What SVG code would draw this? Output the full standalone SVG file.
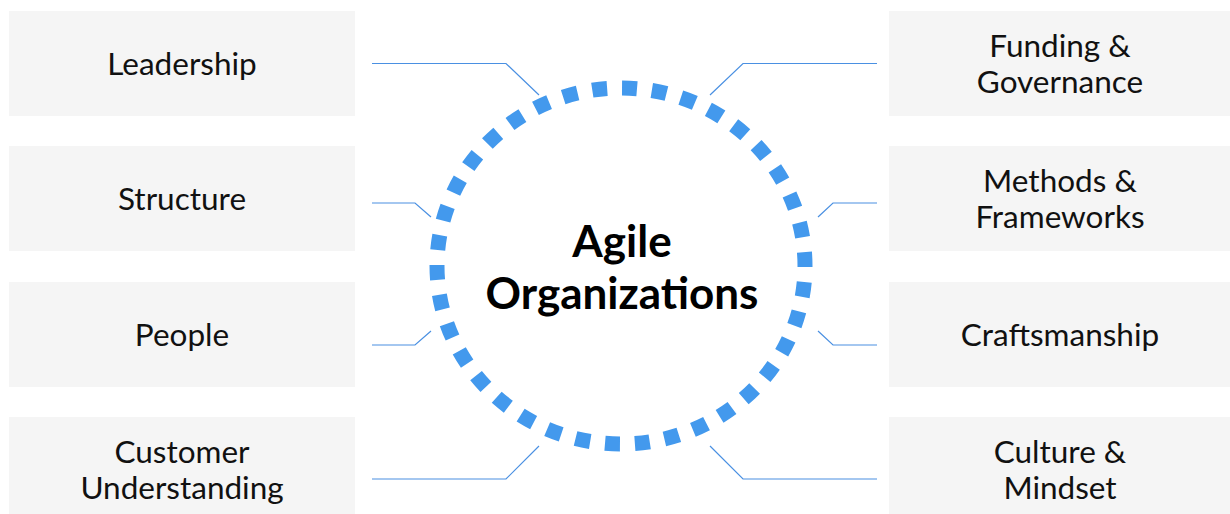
<svg xmlns="http://www.w3.org/2000/svg" width="1230" height="514" viewBox="0 0 1230 514">
<style>
.box{fill:#f5f5f5}
.lbl{font-family:Lato,"Liberation Sans",sans-serif;font-size:31.5px;fill:#111;text-anchor:middle}
.ctr{font-family:Lato,"Liberation Sans",sans-serif;font-size:44px;font-weight:bold;fill:#000;text-anchor:middle}
.con{fill:none;stroke:#4a90e2;stroke-width:1.2}
</style>
<rect width="1230" height="514" fill="#fff"/>
<g id="leadership"><rect class="box" x="9" y="11" width="346" height="105"/><text class="lbl" x="182" y="75">Leadership</text></g>
<g id="structure"><rect class="box" x="9" y="146" width="346" height="105"/><text class="lbl" x="182" y="210">Structure</text></g>
<g id="people"><rect class="box" x="9" y="282" width="346" height="105"/><text class="lbl" x="182" y="346">People</text></g>
<g id="customer"><rect class="box" x="9" y="417" width="346" height="105"/><text class="lbl" x="182" y="463">Customer</text><text class="lbl" x="182" y="499">Understanding</text></g>
<g id="funding"><rect class="box" x="889" y="11" width="341" height="105"/><text class="lbl" x="1060" y="57">Funding &amp;</text><text class="lbl" x="1060" y="93">Governance</text></g>
<g id="methods"><rect class="box" x="889" y="146" width="341" height="105"/><text class="lbl" x="1060" y="192">Methods &amp;</text><text class="lbl" x="1060" y="228">Frameworks</text></g>
<g id="craftsmanship"><rect class="box" x="889" y="282" width="341" height="105"/><text class="lbl" x="1060" y="346">Craftsmanship</text></g>
<g id="culture"><rect class="box" x="889" y="417" width="341" height="105"/><text class="lbl" x="1060" y="463">Culture &amp;</text><text class="lbl" x="1060" y="499">Mindset</text></g>
<g id="connectors">
<polyline class="con" points="372,63.5 506,63.5 539,95"/>
<polyline class="con" points="372,203 415,203 431,217"/>
<polyline class="con" points="372,345 415,345 431,331"/>
<polyline class="con" points="372,479 506,479 539,446"/>
<polyline class="con" points="877,63.5 743,63.5 710,95"/>
<polyline class="con" points="877,203 833,203 818,217"/>
<polyline class="con" points="877,345 833,345 818,331"/>
<polyline class="con" points="877,479 743,479 710,446"/>
</g>
<g id="agile-organizations">
<path d="M621,88 A184,178 0 0 1 621,444 A184,178 0 0 1 621,88 Z" fill="none" stroke="#4399ed" stroke-width="15" pathLength="76" stroke-dasharray="1 1" stroke-dashoffset="-0.07"/>
<text class="ctr" x="622" y="257">Agile</text>
<text class="ctr" x="622" y="309">Organizations</text>
</g>
</svg>
